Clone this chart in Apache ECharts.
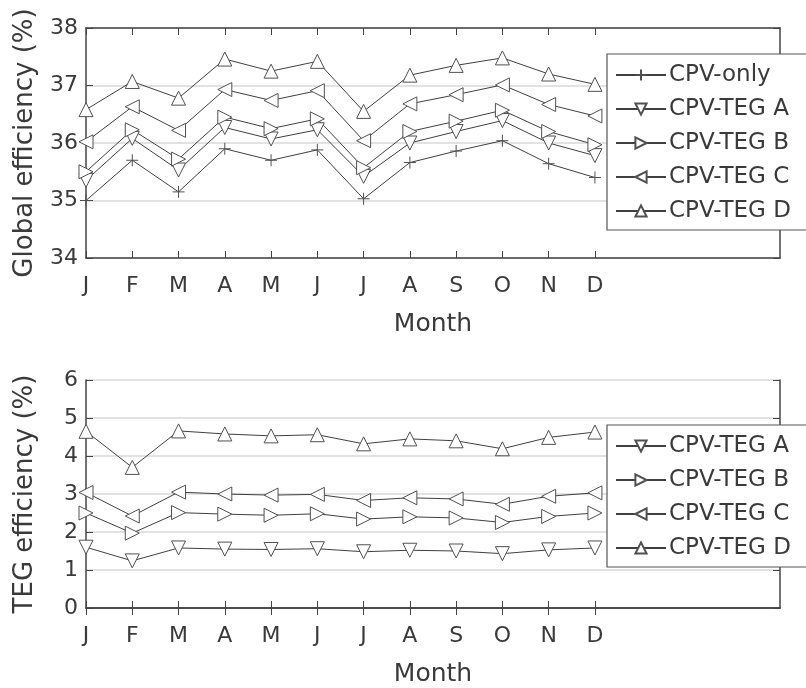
<!DOCTYPE html>
<html>
<head>
<meta charset="utf-8">
<script src="https://cdn.jsdelivr.net/npm/echarts@6/dist/echarts.min.js"></script>
<style>
  html, body { margin: 0; padding: 0; background: #fff; }
  #chart { width: 806px; height: 688px; }
</style>
</head>
<body>
<div id="chart"></div>
<script>
// month tick labels, the last four slots are empty room for the legend
var months = ['J', 'F', 'M', 'A', 'M', 'J', 'J', 'A', 'S', 'O', 'N', 'D'];
var emptySlots = ['', '', '', ''];

// global efficiency (%)
var globalOnly = [35.0, 35.7, 35.15, 35.9, 35.7, 35.88, 35.03, 35.66, 35.86, 36.04, 35.64, 35.4];
var globalA = [35.35, 36.08, 35.53, 36.27, 36.07, 36.23, 35.42, 36.0, 36.2, 36.39, 36.0, 35.78];
var globalB = [35.5, 36.23, 35.72, 36.45, 36.25, 36.42, 35.57, 36.2, 36.38, 36.57, 36.2, 35.97];
var globalC = [36.02, 36.63, 36.22, 36.93, 36.74, 36.91, 36.04, 36.68, 36.84, 37.01, 36.67, 36.47];
var globalD = [36.58, 37.07, 36.78, 37.46, 37.25, 37.42, 36.55, 37.18, 37.35, 37.48, 37.2, 37.02];

// TEG efficiency (%)
var tegA = [1.6, 1.24, 1.58, 1.55, 1.54, 1.56, 1.48, 1.52, 1.5, 1.43, 1.53, 1.58];
var tegB = [2.5, 1.97, 2.51, 2.47, 2.44, 2.48, 2.34, 2.4, 2.37, 2.25, 2.41, 2.5];
var tegC = [3.04, 2.42, 3.05, 3.0, 2.97, 2.99, 2.83, 2.9, 2.87, 2.73, 2.94, 3.03];
var tegD = [4.65, 3.7, 4.66, 4.58, 4.53, 4.56, 4.32, 4.45, 4.4, 4.19, 4.49, 4.63];

var namesTop = ['CPV-only', 'CPV-TEG A', 'CPV-TEG B', 'CPV-TEG C', 'CPV-TEG D'];
var namesBottom = ['CPV-TEG A', 'CPV-TEG B', 'CPV-TEG C', 'CPV-TEG D'];

var font = 'DejaVu Sans';
var textColor = '#3a3a3a';
var axisColor = '#444';
var categories = months.concat(emptySlots);

// marker per series name: symbol + rotation
var markers = {
    'CPV-only': { symbol: 'path://M0,6L12,6M6,0L6,12', rotate: 0, size: 12 },
    'CPV-TEG A': { symbol: 'triangle', rotate: 180, size: 14 },
    'CPV-TEG B': { symbol: 'triangle', rotate: -90, size: 14 },
    'CPV-TEG C': { symbol: 'triangle', rotate: 90, size: 14 },
    'CPV-TEG D': { symbol: 'triangle', rotate: 0, size: 14 }
};

function makeSeries(name, data, gridIdx) {
    var m = markers[name];
    return {
        name: name,
        type: 'line',
        xAxisIndex: gridIdx * 2,
        yAxisIndex: gridIdx * 2,
        data: data,
        symbol: m.symbol,
        symbolRotate: m.rotate,
        symbolSize: m.size,
        showAllSymbol: true,
        lineStyle: { color: '#404040', width: 1 },
        itemStyle: { color: '#fff', borderColor: '#505050', borderWidth: 1 },
        emphasis: { disabled: true },
        animation: false
    };
}

function xAxes(gridIdx) {
    var tickOk = function (idx) { return idx < 12; };
    return [{
        type: 'category', gridIndex: gridIdx, data: categories, boundaryGap: false,
        axisLine: { lineStyle: { color: axisColor, width: 1.5 } },
        axisTick: { inside: true, length: 7, interval: tickOk, lineStyle: { color: axisColor } },
        axisLabel: { interval: 0, margin: 17, fontFamily: font, fontSize: 22, color: textColor },
        name: 'Month', nameLocation: 'middle', nameGap: 54,
        nameTextStyle: { fontFamily: font, fontSize: 25, color: textColor }
    }, {
        type: 'category', gridIndex: gridIdx, data: categories, boundaryGap: false, position: 'top',
        axisLine: { lineStyle: { color: axisColor, width: 1.5 } },
        axisTick: { inside: true, length: 7, interval: tickOk, lineStyle: { color: axisColor } },
        axisLabel: { show: false }
    }];
}

function yAxes(gridIdx, min, max, label) {
    return [{
        type: 'value', gridIndex: gridIdx, min: min, max: max, interval: 1,
        axisLine: { show: true, lineStyle: { color: axisColor, width: 1.5 } },
        axisTick: { show: true, inside: true, length: 7, lineStyle: { color: axisColor } },
        axisLabel: { margin: 8, fontFamily: font, fontSize: 22, color: textColor },
        splitLine: { show: true, lineStyle: { color: '#e2e2e2', width: 2 } },
        name: label, nameLocation: 'middle', nameGap: 48,
        nameTextStyle: { fontFamily: font, fontSize: 26, color: textColor }
    }, {
        type: 'value', gridIndex: gridIdx, min: min, max: max, interval: 1, position: 'right',
        axisLine: { show: true, lineStyle: { color: axisColor, width: 1.5 } },
        axisTick: { show: true, inside: true, length: 7, lineStyle: { color: axisColor } },
        axisLabel: { show: false },
        splitLine: { show: false }
    }];
}

function makeLegend(names, top) {
    return {
        data: names,
        orient: 'vertical',
        left: 607,
        top: top,
        itemWidth: 50,
        itemHeight: 14,
        itemGap: 8,
        padding: [8, 80, 6, 8],
        borderColor: '#555',
        borderWidth: 1.2,
        backgroundColor: '#fff',
        selectedMode: false,
        textStyle: { fontFamily: font, fontSize: 23, color: textColor, lineHeight: 26, padding: [0, 0, 0, -2] }
    };
}

var chart = echarts.init(document.getElementById('chart'));
var option = {
    backgroundColor: '#fff',
    animation: false,
    grid: [
        { left: 86, top: 28, width: 694, height: 230 },
        { left: 86, top: 380, width: 694, height: 231 }
    ],
    xAxis: xAxes(0).concat(xAxes(1)),
    yAxis: yAxes(0, 34, 38, 'Global efficiency (%)').concat(yAxes(1, 0, 6, 'TEG efficiency (%)')),
    legend: [makeLegend(namesTop, 54), makeLegend(namesBottom, 425)],
    series: [
        makeSeries('CPV-only', globalOnly, 0),
        makeSeries('CPV-TEG A', globalA, 0),
        makeSeries('CPV-TEG B', globalB, 0),
        makeSeries('CPV-TEG C', globalC, 0),
        makeSeries('CPV-TEG D', globalD, 0),
        makeSeries('CPV-TEG A', tegA, 1),
        makeSeries('CPV-TEG B', tegB, 1),
        makeSeries('CPV-TEG C', tegC, 1),
        makeSeries('CPV-TEG D', tegD, 1)
    ]
};
chart.setOption(option);
</script>
</body>
</html>
